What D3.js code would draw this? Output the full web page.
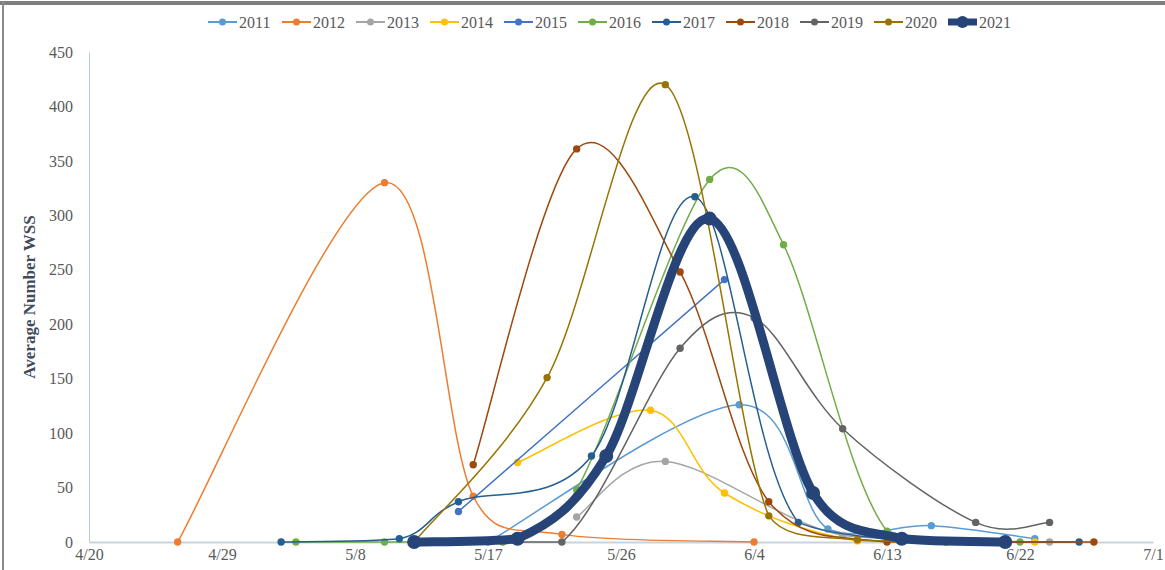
<!DOCTYPE html>
<html>
<head>
<meta charset="utf-8">
<script src="https://cdn.jsdelivr.net/npm/d3@7"></script>
<style>
  body { margin: 0; background: #fff; }
  svg text { font-family: "Liberation Serif", "Times New Roman", serif; }
</style>
</head>
<body>
<svg id="chart" width="1165" height="570"></svg>
<script>
// weekly trap counts, month/day + average number of WSS
const years = ["2011", "2012", "2013", "2014", "2015", "2016", "2017", "2018", "2019", "2020", "2021"];
const s2011 = [["5/17", 0], ["6/3", 126], ["6/9", 12], ["6/16", 15], ["6/23", 3]];
const s2012 = [["4/26", 0], ["5/10", 330], ["5/16", 42], ["5/22", 7], ["6/4", 0]];
const s2013 = [["5/23", 23], ["5/29", 74], ["6/10", 6], ["6/24", 0]];
const s2014 = [["5/19", 73], ["5/28", 121], ["6/2", 45], ["6/11", 1], ["6/23", 0]];
const s2015 = [["5/15", 28], ["6/2", 241]];
const s2016 = [["5/4", 0], ["5/10", 0], ["5/18", 0], ["5/23", 48], ["6/1", 333], ["6/6", 273], ["6/13", 10], ["6/22", 0]];
const s2017 = [["5/3", 0], ["5/11", 3], ["5/15", 37], ["5/24", 79], ["5/31", 317], ["6/7", 18], ["6/19", 0], ["6/26", 0]];
const s2018 = [["5/16", 71], ["5/23", 361], ["5/30", 248], ["6/5", 37], ["6/13", 0], ["6/27", 0]];
const s2019 = [["5/14", 0], ["5/22", 0], ["5/30", 178], ["6/4", 206], ["6/10", 104], ["6/19", 18], ["6/24", 18]];
const s2020 = [["5/12", 0], ["5/21", 151], ["5/29", 420], ["6/5", 24], ["6/11", 2], ["6/17", 0]];
const s2021 = [["5/12", 0], ["5/19", 3], ["5/25", 79], ["6/1", 297], ["6/8", 45], ["6/14", 3], ["6/21", 0]];
const xTicks = ["4/20", "4/29", "5/8", "5/17", "5/26", "6/4", "6/13", "6/22", "7/1"];
const yTicks = [0, 50, 100, 150, 200, 250, 300, 350, 400, 450];

const allSeries = [s2011, s2012, s2013, s2014, s2015, s2016, s2017, s2018, s2019, s2020, s2021];
const colours = ["#5B9BD5", "#ED7D31", "#A5A5A5", "#FFC000", "#4472C4", "#70AD47",
                 "#255E91", "#9E480E", "#636363", "#997300", "#264478"];

const parse = d3.timeParse("%m/%d");
const svg = d3.select("#chart");

// frame of the original screenshot
svg.append("rect").attr("x", 0).attr("y", 1).attr("width", 1165).attr("height", 4).attr("fill", "#7f7f7f");
svg.append("rect").attr("x", 2).attr("y", 1).attr("width", 2).attr("height", 569).attr("fill", "#8a8a8a");

const x = d3.scaleTime().domain([parse("4/20"), parse("7/1")]).range([89, 1153]);
const y = d3.scaleLinear().domain([0, 450]).range([542, 52]);
const floorY = y(0);

// excel style smoothing: catmull-rom 1/6 with control arm capped at half the segment,
// control points kept above the zero line so flat runs don't sag under the axis
function excelCurve(context) {
  let pts = [];
  const dist = (a, b) => Math.hypot(b[0] - a[0], b[1] - a[1]);
  return {
    areaStart() {}, areaEnd() {},
    lineStart() { pts = []; },
    point(px, py) { pts.push([+px, +py]); },
    lineEnd() {
      const n = pts.length;
      if (!n) return;
      context.moveTo(pts[0][0], pts[0][1]);
      for (let i = 0; i < n - 1; i++) {
        const p0 = pts[i - 1] || pts[i], p1 = pts[i], p2 = pts[i + 1], p3 = pts[i + 2] || pts[i + 1];
        const d02 = dist(p0, p2), d12 = dist(p1, p2), d13 = dist(p1, p3);
        let f1 = 1 / 6, f2 = 1 / 6;
        if (d02 / 6 >= d12 / 2) f1 = d02 ? d12 / d02 / 2 : 0;
        if (d13 / 6 >= d12 / 2) f2 = d13 ? d12 / d13 / 2 : 0;
        context.bezierCurveTo(
          p1[0] + (p2[0] - p0[0]) * f1, Math.min(floorY, p1[1] + (p2[1] - p0[1]) * f1),
          p2[0] - (p3[0] - p1[0]) * f2, Math.min(floorY, p2[1] - (p3[1] - p1[1]) * f2),
          p2[0], p2[1]);
      }
    }
  };
}

// axes
const yAxis = svg.append("g")
  .attr("transform", "translate(89,0)")
  .call(d3.axisLeft(y).tickValues(yTicks).tickSize(0).tickPadding(16));
yAxis.select(".domain").attr("stroke", "#b8c6da").attr("stroke-width", 1);

const xAxis = svg.append("g")
  .attr("transform", "translate(0,542)")
  .call(d3.axisBottom(x).tickValues(xTicks.map(parse)).tickFormat(d3.timeFormat("%-m/%-d")).tickSize(0).tickPadding(7));
xAxis.select(".domain").attr("stroke", "#c9d3e0").attr("stroke-width", 2);

svg.selectAll(".tick text")
  .attr("fill", "#595959")
  .style("font-size", "16px");

svg.append("text")
  .attr("transform", "translate(35,297) rotate(-90)")
  .attr("text-anchor", "middle")
  .attr("fill", "#3f4b5b")
  .style("font-size", "17px")
  .style("font-weight", "bold")
  .text("Average Number WSS");

const line = d3.line()
  .x(d => x(parse(d[0])))
  .y(d => y(d[1]))
  .curve(excelCurve);

allSeries.forEach((s, i) => {
  const last = i === allSeries.length - 1;
  const g = svg.append("g").attr("class", "series-" + years[i]);
  g.append("path")
    .attr("d", line(s))
    .attr("fill", "none")
    .attr("stroke", colours[i])
    .attr("stroke-width", last ? 9 : 1.5)
    .attr("stroke-linejoin", "round");
  g.selectAll("circle")
    .data(s)
    .enter()
    .append("circle")
    .attr("cx", d => x(parse(d[0])))
    .attr("cy", d => y(d[1]))
    .attr("r", last ? 7 : 3.7)
    .attr("fill", colours[i]);
});

// legend across the top
const legend = svg.append("g").attr("transform", "translate(208,22)");
years.forEach((yr, i) => {
  const last = i === years.length - 1;
  const item = legend.append("g").attr("transform", `translate(${i * 74},0)`);
  item.append("line")
    .attr("x1", 0).attr("x2", 29)
    .attr("stroke", colours[i])
    .attr("stroke-width", last ? 7 : 2);
  item.append("circle")
    .attr("cx", 14.5)
    .attr("r", last ? 6 : 3.5)
    .attr("fill", colours[i]);
  item.append("text")
    .attr("x", 31)
    .attr("dy", "0.35em")
    .attr("fill", "#595959")
    .style("font-size", "16px")
    .text(yr);
});
</script>
</body>
</html>
